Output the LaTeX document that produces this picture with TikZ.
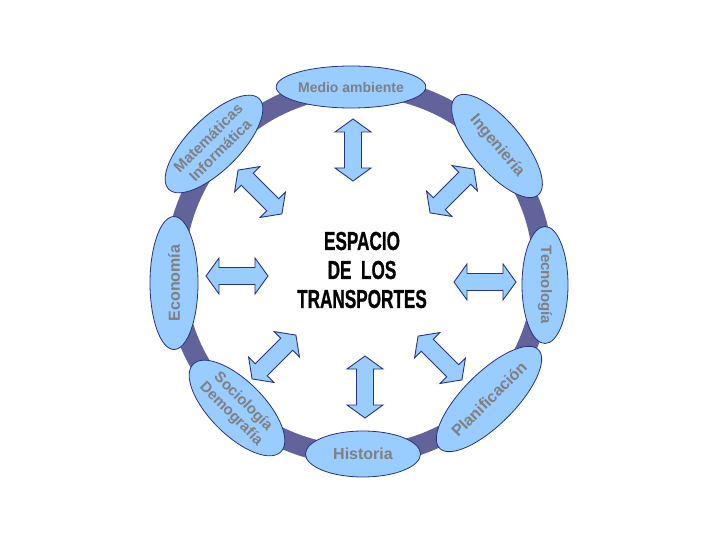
\documentclass[tikz,border=0pt]{standalone}
\usepackage{graphicx}
\usepackage{fontspec}
\setmainfont{Liberation Sans}
\newfontfamily\heavyfont{Liberation Sans Bold}[FakeBold=1]
\usetikzlibrary{shapes.geometric}
\definecolor{lblue}{RGB}{153,204,255}
\definecolor{navy}{RGB}{40,50,125}
\definecolor{ringc}{RGB}{99,99,156}
\definecolor{txtgray}{RGB}{128,128,128}
\tikzset{
  ringstyle/.style={draw=ringc, line width=20pt},
  lbl/.style={ellipse, draw=navy, line width=0.8pt, fill=lblue, text=txtgray,
    font=\bfseries\fontsize{15}{17}\selectfont, inner sep=0pt, align=center},
  arr/.style={draw=navy, line width=0.9pt, fill=lblue, line join=miter}
}
\newcommand\dblarr[3]{\draw[arr, shift={(#1,#2)}, rotate=#3] (-31,0) -- (-18,-18) -- (-18,-8.5) -- (18,-8.5) -- (18,-18) -- (31,0) -- (18,18) -- (18,8.5) -- (-18,8.5) -- (-18,18) -- cycle;}
\begin{document}
\begin{tikzpicture}[x=1pt,y=-1pt]
\useasboundingbox (0,0) rectangle (720,540);
\draw[ringstyle] (359,271) circle (184);
\node[lbl, minimum width=116pt, minimum height=42pt, font=\bfseries\fontsize{14}{14}\selectfont] (medio) at (351,87) {Medio ambiente};
\node[lbl, minimum width=115pt, minimum height=46pt, font=\bfseries\fontsize{16}{16}\selectfont] (hist) at (363,454) {Historia};
\node[lbl, minimum width=133pt, minimum height=48pt, rotate=90, font=\bfseries\fontsize{16}{16}\selectfont] (eco) at (174,283) {Econom\'ia};
\node[lbl, minimum width=117pt, minimum height=46pt, rotate=-90] (tec) at (545,285) {Tecnolog\'ia};
\node[lbl, minimum width=128pt, minimum height=52pt, rotate=45] (mat) at (214,144) {Matem\'aticas\\Inform\'atica};
\node[lbl, minimum width=128pt, minimum height=50pt, rotate=-50, font=\bfseries\fontsize{16}{16}\selectfont] (ing) at (497,146) {Ingenier\'ia};
\node[lbl, minimum width=124pt, minimum height=54pt, rotate=-45] (soc) at (237,408) {Sociolog\'ia\\Demograf\'ia};
\node[lbl, minimum width=124pt, minimum height=52pt, rotate=45, font=\bfseries\fontsize{16}{16}\selectfont] (pla) at (489,399) {Planificaci\'on};
\dblarr{353}{150}{90}
\dblarr{365}{387}{90}
\dblarr{237}{276}{0}
\dblarr{485}{282}{0}
\dblarr{260}{192}{-45}
\dblarr{452}{191}{45}
\dblarr{274}{357}{45}
\dblarr{440}{358}{-45}
\node[align=center, font=\heavyfont\fontsize{26}{29}\selectfont] (title) at (362,270)
  {\scalebox{0.66}[1]{ESPACIO}\\\scalebox{0.66}[1]{DE \ LOS}\\\scalebox{0.66}[1]{TRANSPORTES}};
\end{tikzpicture}
\end{document}
